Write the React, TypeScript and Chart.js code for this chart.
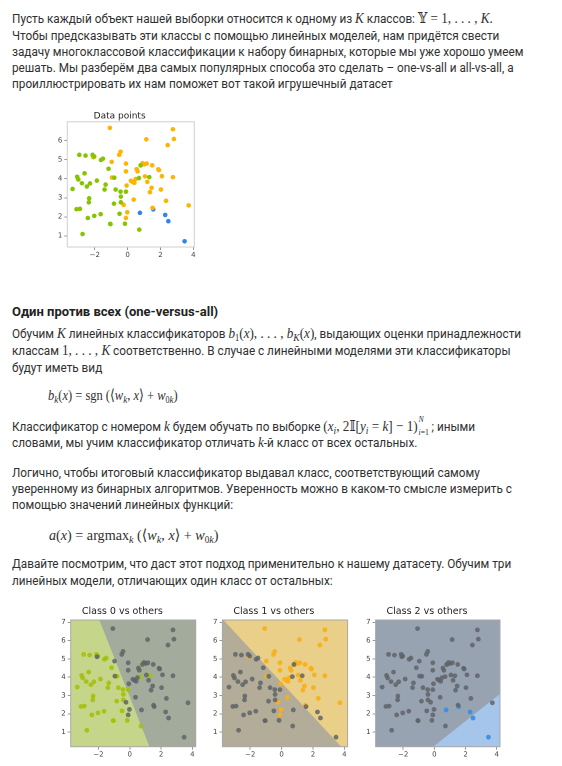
import { useEffect, useRef } from 'react';
import { Chart, registerables } from 'chart.js';

Chart.register(...registerables);

// toy dataset
const class0Points: [number, number][] = [
	[-2.94, 5.25], [-2.56, 5.21], [-2.13, 5.25], [-2.03, 5.16], [-1.5, 5.05], [-1.62, 4.98],
	[-1.16, 4.52], [-2.62, 4.28], [-3.07, 4.1], [-3.0, 3.96], [-0.81, 4.05], [-1.87, 3.9],
	[-2.78, 3.76], [-2.29, 3.75], [-2.48, 3.59], [-1.34, 3.69], [-3.35, 3.46], [-1.4, 3.43],
	[-0.73, 3.43], [-0.43, 3.32], [-0.1, 3.32], [-0.41, 3.06], [-2.34, 2.97], [-2.36, 2.76],
	[-0.41, 2.76], [-0.83, 2.69], [-2.9, 2.42], [-3.11, 2.4], [-1.64, 2.14], [-0.49, 2.16],
	[-2.03, 2.05], [-2.42, 1.94], [-0.16, 1.64], [-1.06, 1.63], [-1.04, 1.62], [-2.74, 1.1],
	[0.71, 1.33], [0.79, 4.7], [0.69, 4.03], [1.32, 4.08]
];
const class1Points: [number, number][] = [
	[-1.08, 6.66], [2.76, 6.59], [1.14, 6.06], [2.82, 6.08], [2.44, 5.76], [-0.43, 5.41],
	[-0.51, 5.25], [-2.09, 5.12], [-0.97, 4.88], [-0.1, 4.79], [0.91, 4.81], [1.02, 4.75],
	[1.16, 4.79], [0.81, 4.7], [1.5, 4.7], [1.87, 4.49], [1.91, 4.45], [0.55, 4.5],
	[0.61, 4.38], [-0.1, 4.38], [-0.95, 4.06], [1.06, 4.12], [2.09, 4.13], [2.76, 4.08],
	[0.49, 3.98], [0.2, 3.89], [0.3, 3.83], [1.2, 3.83], [0.41, 3.78], [-0.06, 3.64],
	[1.46, 3.52], [1.36, 3.29], [2.03, 3.43], [0.37, 2.9], [2.34, 2.84], [-0.24, 2.63],
	[3.72, 2.6], [1.52, 2.47], [-0.02, 2.24], [-0.1, 1.94]
];
const class2Points: [number, number][] = [
	[0.75, 2.21], [1.56, 2.39], [2.29, 2.1], [2.48, 1.77], [3.47, 0.72]
];

const xTickValues = [-2, 0, 2, 4];
const dataYTickValues = [1, 2, 3, 4, 5, 6];
const ovaYTickValues = [1, 2, 3, 4, 5, 6, 7];

const dataXRange = [-3.67, 4.06];
const dataYRange = [0.42, 6.98];
const ovaXRange = [-3.77, 4.21];
const ovaYRange = [0.2, 7.13];

const ovaTitles = ['Class 0 vs others', 'Class 1 vs others', 'Class 2 vs others'];
// decision lines of the three one-vs-all models, and a point on the class side
const ovaBoundaries: [number, number][][] = [
	[[-1.94, 7.13], [1.26, 0.2]],
	[[-3.71, 7.13], [3.8, 0.2]],
	[[-0.08, 0.2], [4.21, 3.09]]
];
const ovaInside: [number, number][] = [[-3, 1], [3, 6], [3.5, 1]];

const regionPlugin = {
	id: 'region',
	beforeDatasetsDraw(chart: any, _args: any, opts: any) {
		if (!opts || !opts.line) return;
		const { ctx, chartArea: a, scales } = chart;
		const px = (p: number[]) => [scales.x.getPixelForValue(p[0]), scales.y.getPixelForValue(p[1])];
		const [p1, p2] = opts.line.map(px);
		const side = (q: number[]) =>
			(p2[0] - p1[0]) * (q[1] - p1[1]) - (p2[1] - p1[1]) * (q[0] - p1[0]);
		const ref = Math.sign(side(px(opts.inside)));
		const rect = [[a.left, a.top], [a.right, a.top], [a.right, a.bottom], [a.left, a.bottom]];
		const poly: number[][] = [];
		for (let i = 0; i < 4; i++) {
			const c = rect[i];
			const n = rect[(i + 1) % 4];
			const dc = side(c) * ref;
			const dn = side(n) * ref;
			if (dc >= 0) poly.push(c);
			if (dc >= 0 !== dn >= 0) {
				const t = dc / (dc - dn);
				poly.push([c[0] + (n[0] - c[0]) * t, c[1] + (n[1] - c[1]) * t]);
			}
		}
		ctx.save();
		ctx.fillStyle = opts.rest;
		ctx.fillRect(a.left, a.top, a.width, a.height);
		ctx.beginPath();
		poly.forEach((p, i) => (i ? ctx.lineTo(p[0], p[1]) : ctx.moveTo(p[0], p[1])));
		ctx.closePath();
		ctx.fillStyle = opts.fill;
		ctx.fill();
		ctx.restore();
	}
};

const framePlugin = {
	id: 'frame',
	afterDatasetsDraw(chart: any, _args: any, opts: any) {
		const { ctx, chartArea: a } = chart;
		ctx.save();
		ctx.strokeStyle = opts.color || '#ccc';
		ctx.lineWidth = 1;
		ctx.strokeRect(a.left, a.top, a.width, a.height);
		ctx.restore();
	}
};

type PanelProps = {
	plotLeft: number;
	plotRight: number;
	top: number;
	height: number;
	xAxisH: number;
	titleTop: number;
	titleBottom: number;
	titleSize: number;
	title: string;
	datasets: any[];
	xRange: number[];
	yRange: number[];
	yTicks: number[];
	frameColor: string;
	region?: any;
};

function ScatterPanel(p: PanelProps) {
	const canvasRef = useRef<HTMLCanvasElement>(null);
	const canvasLeft = Math.round(p.plotLeft - 22);
	const yAxisW = p.plotLeft - canvasLeft;
	const width = Math.round(p.plotRight - canvasLeft + 5);
	useEffect(() => {
		const fmt = (v: any) => String(v).replace('-', '\u2212');
		const tickFont = { family: '"DejaVu Sans", sans-serif', size: 7 };
		const chart = new Chart(canvasRef.current as HTMLCanvasElement, {
			type: 'scatter',
			data: { datasets: p.datasets },
			plugins: [regionPlugin, framePlugin],
			options: {
				animation: false,
				responsive: false,
				devicePixelRatio: 2,
				layout: { padding: { left: 0, right: width - (p.plotRight - canvasLeft), top: 0, bottom: 0 } },
				scales: {
					x: {
						type: 'linear',
						min: p.xRange[0],
						max: p.xRange[1],
						afterBuildTicks: (s: any) => {
							s.ticks = xTickValues.map((v) => ({ value: v }));
						},
						afterFit: (s: any) => {
							s.height = p.xAxisH;
						},
						grid: { drawOnChartArea: false, tickLength: 3, color: '#999' },
						border: { display: false },
						ticks: { font: tickFont, color: '#444', padding: 1, callback: fmt, maxRotation: 0 }
					},
					y: {
						type: 'linear',
						min: p.yRange[0],
						max: p.yRange[1],
						afterBuildTicks: (s: any) => {
							s.ticks = p.yTicks.map((v) => ({ value: v }));
						},
						afterFit: (s: any) => {
							s.width = yAxisW;
						},
						grid: { drawOnChartArea: false, tickLength: 3, color: '#999' },
						border: { display: false },
						ticks: { font: tickFont, color: '#444', padding: 2, callback: fmt }
					}
				},
				plugins: {
					legend: { display: false },
					tooltip: { enabled: false },
					title: {
						display: true,
						text: p.title,
						color: '#222',
						font: { family: '"DejaVu Sans", sans-serif', size: p.titleSize, weight: 'normal', lineHeight: 1.2 },
						padding: { top: p.titleTop, bottom: p.titleBottom }
					},
					region: p.region || {},
					frame: { color: p.frameColor }
				} as any
			}
		});
		return () => chart.destroy();
	});
	return (
		<canvas
			ref={canvasRef}
			width={width}
			height={p.height}
			style={{ position: 'absolute', left: canvasLeft, top: p.top, width, height: p.height }}
		/>
	);
}

const toXY = (pts: [number, number][]) => pts.map(([x, y]) => ({ x, y }));
const dot = (pts: [number, number][], color: string, r: number) => ({
	data: toXY(pts),
	backgroundColor: color,
	borderWidth: 0,
	pointRadius: r
});

const grayDot = 'rgba(95,100,104,0.85)';
const ovaStyles = [
	{ fill: '#c5d68b', rest: '#a2ab9c', color: 'rgba(166,192,10,0.9)' },
	{ fill: '#e9cf87', rest: '#b2ac98', color: 'rgba(248,176,24,0.92)' },
	{ fill: '#a5c5ea', rest: '#98a3b2', color: 'rgba(58,140,230,0.92)' }
];
const ovaPlots = [
	[70.7, 195.7],
	[222.4, 347.6],
	[375.6, 500]
];

const serif = '"Liberation Serif", "DejaVu Serif", serif';
const mathI = { fontFamily: serif, fontStyle: 'italic', fontSize: '1.12em' };
const mathR = { fontFamily: serif, fontSize: '1.12em' };

const I = ({ children }: any) => <span style={mathI}>{children}</span>;
const R = ({ children }: any) => <span style={mathR}>{children}</span>;
const Sub = ({ children }: any) => (
	<span style={{ fontFamily: serif, fontSize: '0.72em', position: 'relative', top: '3px' }}>{children}</span>
);

// one rendered line of the article; text is squeezed to the narrow site font width
function Line({ y, x = 12, sx = 0.865, children, style }: any) {
	return (
		<div
			style={{
				position: 'absolute',
				left: x,
				top: y - 9,
				height: 18,
				lineHeight: '18px',
				whiteSpace: 'nowrap',
				transform: `scaleX(${sx})`,
				transformOrigin: 'left center',
				...style
			}}
		>
			{children}
		</div>
	);
}

export default function App() {
	const classes = [class0Points, class1Points, class2Points];
	return (
		<div
			style={{
				position: 'absolute',
				left: 0,
				top: 0,
				width: 562,
				height: 766,
				overflow: 'hidden',
				background: '#fff',
				fontFamily: 'Roboto, "Noto Sans", sans-serif',
				fontSize: '13.6px',
				color: '#303030'
			}}
		>
			<Line y={18}>
				Пусть каждый объект нашей выборки относится к одному из <I>K</I> классов: <R>𝕐 = 1, . . . , </R>
				<I>K</I>
				<R>.</R>
			</Line>
			<Line y={34.5}>Чтобы предсказывать эти классы с помощью линейных моделей, нам придётся свести</Line>
			<Line y={50.5}>задачу многоклассовой классификации к набору бинарных, которые мы уже хорошо умеем</Line>
			<Line y={66.5}>решать. Мы разберём два самых популярных способа это сделать – one-vs-all и all-vs-all, а</Line>
			<Line y={82.5}>проиллюстрировать их нам поможет вот такой игрушечный датасет</Line>

			<ScatterPanel
				plotLeft={67.3}
				plotRight={194.3}
				top={105}
				height={157}
				xAxisH={15}
				titleTop={6}
				titleBottom={0}
				titleSize={9}
				title="Data points"
				xRange={dataXRange}
				yRange={dataYRange}
				yTicks={dataYTickValues}
				frameColor="#cfcfcf"
				datasets={[
					dot(class0Points, '#86c400', 2.3),
					dot(class1Points, '#ffb400', 2.3),
					dot(class2Points, '#2f86e8', 2.3)
				]}
			/>

			<Line y={311.5} sx={1} style={{ fontWeight: 700, fontSize: '13px', color: '#222' }}>
				Один против всех (one-versus-all)
			</Line>
			<Line y={332.5}>
				Обучим <I>K</I> линейных классификаторов <I>b</I>
				<Sub>1</Sub>
				<R>(</R>
				<I>x</I>
				<R>), . . . , </R>
				<I>b</I>
				<Sub>
					<I>K</I>
				</Sub>
				<R>(</R>
				<I>x</I>
				<R>)</R>, выдающих оценки принадлежности
			</Line>
			<Line y={349.5}>
				классам <R>1, . . . , </R>
				<I>K</I> соответственно. В случае с линейными моделями эти классификаторы
			</Line>
			<Line y={366.5}>будут иметь вид</Line>
			<Line y={395} x={48} sx={0.82}>
				<I>b</I>
				<Sub>
					<I>k</I>
				</Sub>
				<R>(</R>
				<I>x</I>
				<R>) = sgn (⟨</R>
				<I>w</I>
				<Sub>
					<I>k</I>
				</Sub>
				<R>, </R>
				<I>x</I>
				<R>⟩ + </R>
				<I>w</I>
				<Sub>
					0<I>k</I>
				</Sub>
				<R>)</R>
			</Line>
			<Line y={426}>
				Классификатор с номером <I>k</I> будем обучать по выборке <R>(</R>
				<I>x</I>
				<Sub>
					<I>i</I>
				</Sub>
				<R>, 2𝕀[</R>
				<I>y</I>
				<Sub>
					<I>i</I>
				</Sub>
				<R> = </R>
				<I>k</I>
				<R>] − 1)</R>
				<span
					style={{
						position: 'relative',
						display: 'inline-block',
						width: 16,
						height: 10,
						fontFamily: serif,
						fontSize: '9px',
						lineHeight: '9px'
					}}
				>
					<span style={{ position: 'absolute', left: 1, top: -6, fontStyle: 'italic' }}>N</span>
					<span style={{ position: 'absolute', left: 1, top: 7 }}>
						<i>i</i>=1
					</span>
				</span>
				; иными
			</Line>
			<Line y={441.5}>
				словами, мы учим классификатор отличать <I>k</I>-й класс от всех остальных.
			</Line>
			<Line y={472}>Логично, чтобы итоговый классификатор выдавал класс, соответствующий самому</Line>
			<Line y={488}>уверенному из бинарных алгоритмов. Уверенность можно в каком-то смысле измерить с</Line>
			<Line y={504}>помощью значений линейных функций:</Line>
			<Line y={535} x={49} sx={0.93}>
				<I>a</I>
				<R>(</R>
				<I>x</I>
				<R>) = argmax</R>
				<Sub>
					<I>k</I>
				</Sub>
				<R> (⟨</R>
				<I>w</I>
				<Sub>
					<I>k</I>
				</Sub>
				<R>, </R>
				<I>x</I>
				<R>⟩ + </R>
				<I>w</I>
				<Sub>
					0<I>k</I>
				</Sub>
				<R>)</R>
			</Line>
			<Line y={563}>Давайте посмотрим, что даст этот подход применительно к нашему датасету. Обучим три</Line>
			<Line y={580}>линейных модели, отличающих один класс от остальных:</Line>

			{ovaTitles.map((title, k) => {
				const others = classes.filter((_, j) => j !== k).flat() as [number, number][];
				return (
					<ScatterPanel
						key={title}
						plotLeft={ovaPlots[k][0]}
						plotRight={ovaPlots[k][1]}
						top={603}
						height={160}
						xAxisH={16.3}
						titleTop={3}
						titleBottom={2.6}
						titleSize={9.5}
						title={title}
						xRange={ovaXRange}
						yRange={ovaYRange}
						yTicks={ovaYTickValues}
						frameColor="#a8a8a8"
						region={{
							line: ovaBoundaries[k],
							inside: ovaInside[k],
							fill: ovaStyles[k].fill,
							rest: ovaStyles[k].rest
						}}
						datasets={[dot(others, grayDot, 2.4), dot(classes[k], ovaStyles[k].color, 2.4)]}
					/>
				);
			})}
		</div>
	);
}
